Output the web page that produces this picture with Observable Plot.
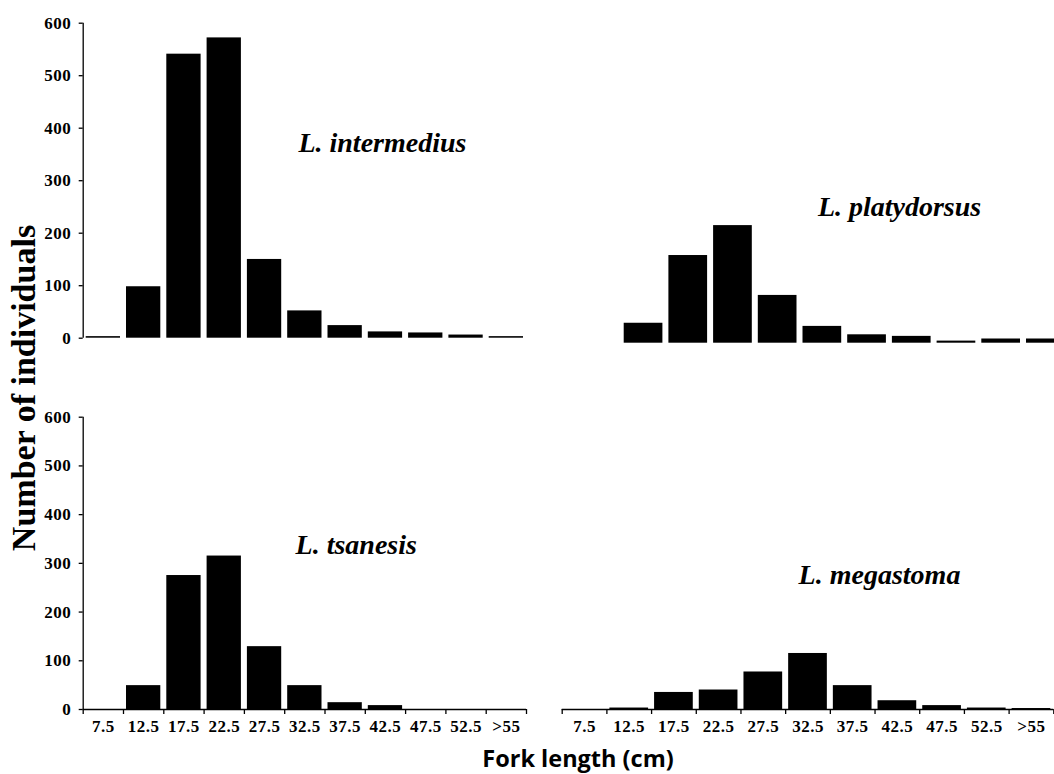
<!DOCTYPE html>
<html>
<head>
<meta charset="utf-8">
<script src="https://cdn.jsdelivr.net/npm/d3@7"></script>
<script src="https://cdn.jsdelivr.net/npm/@observablehq/plot@0.6"></script>
<style>
  html, body { margin: 0; padding: 0; background: #fff; overflow: hidden; }
  #wrap { position: relative; width: 1054px; height: 774px; overflow: hidden; background: #fff; }
  #wrap > svg, #wrap > figure { position: absolute; margin: 0; }
  #wrap svg g[aria-label$="tick label"] text { font-size: 17px; letter-spacing: 0.5px; font-weight: bold; }
  #wrap svg g[aria-label="text"] text { font-size: 28px; letter-spacing: 0; font-weight: bold; font-style: italic; }
  .ytitle { position: absolute; left: 24px; top: 388px; transform: translate(-50%, -50%) rotate(-90deg);
    font: bold 34px "Liberation Serif", serif; white-space: nowrap; color: #000; }
  .xtitle { position: absolute; left: 578px; top: 747px; transform: translateX(-50%);
    font: bold 23.5px "Open Sans", sans-serif; line-height: 1; white-space: nowrap; color: #000; }
</style>
</head>
<body>
<div id="wrap"></div>
<script>
// ---- data ----
const categories = ["7.5", "12.5", "17.5", "22.5", "27.5", "32.5", "37.5", "42.5", "47.5", "52.5", ">55"];
const intermedius = [3, 98, 541, 572, 150, 52, 24, 12, 10, 6, 3];
const platydorsus = [0, 38, 167, 224, 91, 32, 16, 13, 4, 8, 8];
const tsanesis = [0, 49, 275, 315, 129, 49, 14, 8, 0, 0, 0];
const megastoma = [0, 3, 35, 40, 77, 115, 49, 18, 8, 3, 2];
const yTicks = [0, 100, 200, 300, 400, 500, 600];
const speciesNames = ["L. intermedius", "L. platydorsus", "L. tsanesis", "L. megastoma"];
// species label anchor in data units (class index, count)
const labelX = [5.34, 5.40, 5.27, 5.29];
const labelY = [354, 243, 320, 257];

const wrap = document.getElementById("wrap");

function panel(values, k, opts) {
  const rows = values.map((v, i) => ({i, v, cat: categories[i]}));
  const marks = [
    Plot.rect(rows, {x1: "i", x2: d => d.i + 1, y1: 0, y2: "v", fill: "#000", insetLeft: 3, insetRight: 3}),
    Plot.text([speciesNames[k]], {x: [labelX[k]], y: [labelY[k]], text: d => d, textAnchor: "start",
      lineAnchor: "bottom", fontSize: 28, fontStyle: "italic", fontWeight: "bold"})
  ];
  if (opts.showY) {
    marks.push(Plot.ruleX([0], {strokeWidth: 1.3}));
    marks.push(Plot.axisY({ticks: yTicks, tickSize: 4, tickPadding: 8, label: null, fontSize: 17, strokeWidth: 1.3}));
  }
  if (opts.showX) {
    marks.push(Plot.ruleY([0], {strokeWidth: 1.3}));
    marks.push(Plot.axisX({ticks: d3.range(0, categories.length + 1), tickSize: 5, tickFormat: () => "", label: null, strokeWidth: 1.3}));
    marks.push(Plot.axisX({ticks: d3.range(categories.length).map(i => i + 0.5), tickSize: 0, tickPadding: 10,
      tickFormat: d => categories[Math.floor(d)], label: null, fontSize: 17}));
  }
  const chart = Plot.plot({
    width: opts.width, height: opts.height,
    marginLeft: opts.ml, marginRight: opts.mr, marginTop: opts.mt, marginBottom: opts.mb,
    x: {domain: [0, categories.length], axis: null, label: null},
    y: {domain: [0, 600], axis: null, label: null},
    style: {fontFamily: "'Liberation Serif', serif", fontWeight: "bold", fontSize: "17px", color: "#000",
      background: "transparent", overflow: "visible"},
    marks
  });
  chart.style.left = opts.left + "px";
  chart.style.top = opts.top + "px";
  wrap.appendChild(chart);
}

panel(intermedius, 0, {left: 0, top: 0, width: 540, height: 360, ml: 82.7, mr: 14, mt: 22.7, mb: 22.3, showY: true, showX: false});
panel(platydorsus, 1, {left: 540, top: 0, width: 540, height: 360, ml: 36, mr: 12.3, mt: 27.7, mb: 17.3, showY: false, showX: false});
panel(tsanesis, 2, {left: 0, top: 380, width: 540, height: 394, ml: 82.7, mr: 14, mt: 36.7, mb: 65, showY: true, showX: true});
panel(megastoma, 3, {left: 540, top: 380, width: 514, height: 394, ml: 21.7, mr: 0.7, mt: 36.7, mb: 65, showY: false, showX: true});

const yt = document.createElement("div");
yt.className = "ytitle";
yt.textContent = "Number of individuals";
wrap.appendChild(yt);
const xt = document.createElement("div");
xt.className = "xtitle";
xt.textContent = "Fork length (cm)";
wrap.appendChild(xt);
</script>
</body>
</html>
